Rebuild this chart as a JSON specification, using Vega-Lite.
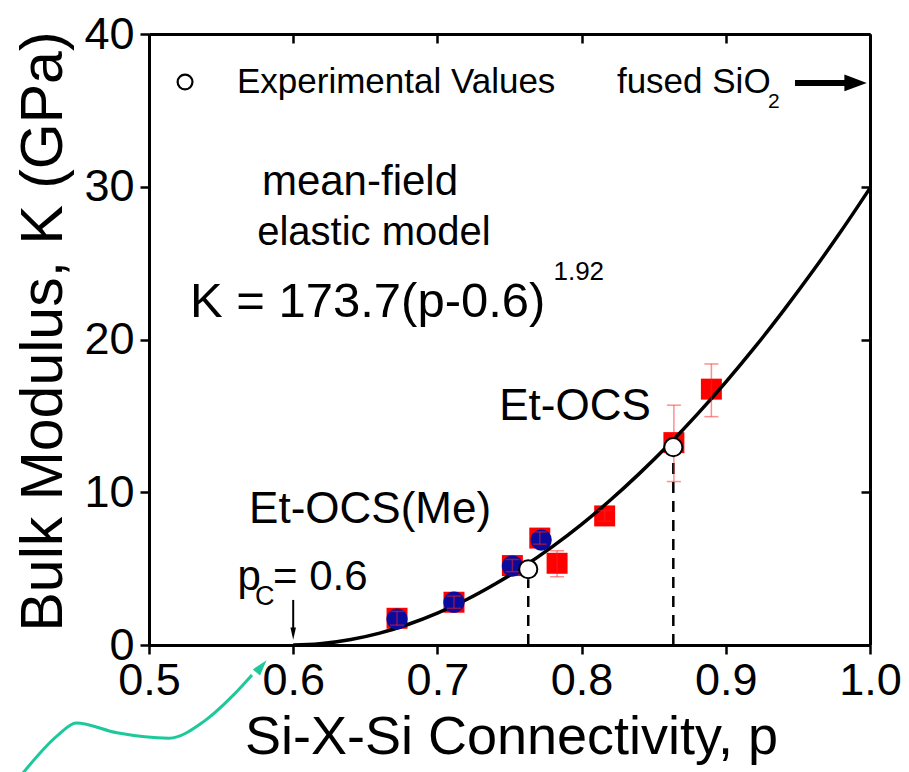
{
  "$schema": "https://vega.github.io/schema/vega-lite/v6.json",
  "width": 721,
  "height": 611,
  "autosize": "none",
  "padding": {"left": 149, "top": 34, "right": 39, "bottom": 127},
  "background": "white",
  "config": {
    "view": {"stroke": null},
    "font": "Liberation Sans",
    "axis": {
      "domainColor": "black", "domainWidth": 3, "tickColor": "black", "tickWidth": 2.5,
      "grid": false, "labelColor": "black", "titleColor": "black",
      "labelFont": "Liberation Sans", "titleFont": "Liberation Sans", "titleFontWeight": "normal"
    }
  },
  "datasets": {
    "fit": [
      {"p": 0.6, "K": 0}, {"p": 0.61, "K": 0.025}, {"p": 0.62, "K": 0.095}, {"p": 0.64, "K": 0.36},
      {"p": 0.66, "K": 0.78}, {"p": 0.68, "K": 1.36}, {"p": 0.7, "K": 2.09}, {"p": 0.72, "K": 2.96},
      {"p": 0.74, "K": 3.99}, {"p": 0.76, "K": 5.15}, {"p": 0.78, "K": 6.46}, {"p": 0.8, "K": 7.9},
      {"p": 0.82, "K": 9.49}, {"p": 0.84, "K": 11.22}, {"p": 0.86, "K": 13.08}, {"p": 0.88, "K": 15.08},
      {"p": 0.9, "K": 17.21}, {"p": 0.92, "K": 19.48}, {"p": 0.94, "K": 21.89}, {"p": 0.96, "K": 24.43},
      {"p": 0.98, "K": 27.1}, {"p": 1.0, "K": 29.91}
    ],
    "red": [
      {"p": 0.672, "K": 1.75, "lo": 1.3, "hi": 2.2},
      {"p": 0.7115, "K": 2.8, "lo": 2.4, "hi": 3.2},
      {"p": 0.752, "K": 5.2, "lo": 4.8, "hi": 5.6},
      {"p": 0.771, "K": 7.0, "lo": 6.6, "hi": 7.4},
      {"p": 0.783, "K": 5.35, "lo": 4.47, "hi": 6.17},
      {"p": 0.816, "K": 8.45, "lo": 8.1, "hi": 8.8},
      {"p": 0.864, "K": 13.25, "lo": 10.7, "hi": 15.7},
      {"p": 0.89, "K": 16.75, "lo": 14.95, "hi": 18.4}
    ],
    "blue": [
      {"p": 0.672, "K": 1.7}, {"p": 0.7115, "K": 2.8}, {"p": 0.752, "K": 5.17}, {"p": 0.772, "K": 6.87}
    ],
    "open": [
      {"p": 0.763, "K": 4.96}, {"p": 0.8636, "K": 12.95}
    ],
    "dash": [
      {"p": 0.763, "K": 0, "K2": 4.3}, {"p": 0.8636, "K": 0, "K2": 12.2}
    ],
    "legendpt": [{"p": 0.525, "K": 36.86}],
    "pcarrow": [{"p": 0.6, "K": 2.95, "K2": 1.0}],
    "pchead": [{"p": 0.6, "K": 0.75}],
    "sio2shaft": [{"p": 0.948, "p2": 0.985, "K": 36.8}],
    "sio2head": [{"p": 0.99, "K": 36.8}],
    "teal": [
      {"p": 0.4126, "K": -8.38}, {"p": 0.4369, "K": -5.9}, {"p": 0.4494, "K": -5.1},
      {"p": 0.4778, "K": -5.75}, {"p": 0.5139, "K": -6.1}, {"p": 0.5381, "K": -5.0},
      {"p": 0.5583, "K": -3.3}, {"p": 0.5714, "K": -1.96}
    ],
    "tealhead": [{"p": 0.578, "K": -1.4}],
    "bigtext": [
      {"p": 0.7954, "K": 14.73, "t": "Et-OCS"},
      {"p": 0.6533, "K": 7.99, "t": "Et-OCS(Me)"}
    ],
    "modeltext": [
      {"p": 0.6463, "K": 29.46, "t": "mean-field"}
    ],
    "modeltext2": [
      {"p": 0.656, "K": 26.19, "t": "elastic model"}
    ],
    "formula": [{"p": 0.5284, "K": 21.5, "t": "K = 173.7(p-0.6)"}],
    "formsup": [{"p": 0.7805, "K": 23.9, "t": "1.92"}],
    "pctext": [{"p": 0.5614, "K": 3.6, "t": "p"}, {"p": 0.586, "K": 3.6, "t": "= 0.6"}],
    "pcsub": [{"p": 0.5735, "K": 2.62, "t": "C"}],
    "legtext": [{"p": 0.561, "K": 36.14, "t": "Experimental Values"}, {"p": 0.8245, "K": 36.14, "t": "fused SiO"}],
    "sio2sub": [{"p": 0.9293, "K": 35.16, "t": "2"}]
  },
  "encoding": {
    "x": {"field": "p", "type": "quantitative", "scale": {"domain": [0.5, 1.0], "nice": false, "zero": false}, "axis": null},
    "y": {"field": "K", "type": "quantitative", "scale": {"domain": [0, 40], "nice": false, "zero": false}, "axis": null}
  },
  "layer": [
    {
      "data": {"name": "fit"},
      "mark": {"type": "point", "opacity": 0},
      "encoding": {
        "x": {"field": "p", "type": "quantitative", "scale": {"domain": [0.5, 1.0], "nice": false, "zero": false},
          "axis": {"orient": "bottom", "values": [0.5, 0.6, 0.7, 0.8, 0.9, 1.0], "format": ".1f", "tickSize": 9,
            "labelFontSize": 45, "labelPadding": 4, "labelFlush": false,
            "title": "Si-X-Si Connectivity, p", "titleFontSize": 54, "titleBaseline": "alphabetic", "titleX": 362, "titleY": 108}},
        "y": {"field": "K", "type": "quantitative", "scale": {"domain": [0, 40], "nice": false, "zero": false},
          "axis": {"orient": "left", "values": [0, 10, 20, 30, 40], "tickSize": 9, "labelFontSize": 45, "labelPadding": 6,
            "labelFlush": false, "title": "Bulk Modulus, K (GPa)", "titleFontSize": 59, "titleAngle": 270,
            "titleBaseline": "alphabetic", "titleX": -88, "titleY": 297, "titleAnchor": "middle"}}
      }
    },
    {
      "data": {"name": "fit"},
      "mark": {"type": "point", "opacity": 0},
      "encoding": {
        "x": {"field": "p", "type": "quantitative", "scale": {"domain": [0.5, 1.0], "nice": false, "zero": false},
          "axis": {"orient": "top", "values": [0.5, 0.6, 0.7, 0.8, 0.9, 1.0], "tickSize": -9, "labels": false, "title": null}},
        "y": {"field": "K", "type": "quantitative", "scale": {"domain": [0, 40], "nice": false, "zero": false},
          "axis": {"orient": "right", "values": [0, 10, 20, 30, 40], "tickSize": -9, "labels": false, "title": null}}
      }
    },
    {
      "data": {"name": "dash"},
      "mark": {"type": "rule", "color": "black", "strokeWidth": 2.5, "strokeDash": [11, 8]},
      "encoding": {"y2": {"field": "K2"}}
    },
    {
      "data": {"name": "red"},
      "mark": {"type": "point", "shape": "square", "filled": true, "color": "#ff0000", "size": 440, "opacity": 1},
      "encoding": {}
    },
    {
      "data": {"name": "fit"},
      "mark": {"type": "line", "color": "black", "strokeWidth": 3.5, "interpolate": "monotone"},
      "encoding": {}
    },
    {
      "data": {"name": "blue"},
      "mark": {"type": "point", "shape": "circle", "filled": true, "color": "#0a0a9c", "size": 450, "opacity": 1},
      "encoding": {}
    },
    {
      "data": {"name": "red"},
      "mark": {"type": "rule", "color": "#ff2020", "strokeWidth": 1.5, "opacity": 0.5},
      "encoding": {"y": {"field": "lo", "type": "quantitative"}, "y2": {"field": "hi"}}
    },
    {
      "data": {"name": "red"},
      "mark": {"type": "tick", "orient": "horizontal", "color": "#ff2020", "thickness": 1.5, "size": 14, "opacity": 0.5},
      "encoding": {"y": {"field": "lo", "type": "quantitative"}}
    },
    {
      "data": {"name": "red"},
      "mark": {"type": "tick", "orient": "horizontal", "color": "#ff2020", "thickness": 1.5, "size": 14, "opacity": 0.5},
      "encoding": {"y": {"field": "hi", "type": "quantitative"}}
    },
    {
      "data": {"name": "open"},
      "mark": {"type": "point", "shape": "circle", "filled": true, "fill": "white", "stroke": "black", "strokeWidth": 2, "size": 330, "opacity": 1},
      "encoding": {}
    },
    {
      "data": {"name": "legendpt"},
      "mark": {"type": "point", "shape": "circle", "filled": true, "fill": "white", "stroke": "black", "strokeWidth": 2.2, "size": 220, "opacity": 1},
      "encoding": {}
    },
    {
      "data": {"name": "pcarrow"},
      "mark": {"type": "rule", "color": "black", "strokeWidth": 2},
      "encoding": {"y2": {"field": "K2"}}
    },
    {
      "data": {"name": "pchead"},
      "mark": {"type": "point", "shape": "M-0.45,-1L0.45,-1L0,1Z", "filled": true, "color": "black", "size": 150, "opacity": 1},
      "encoding": {}
    },
    {
      "data": {"name": "sio2shaft"},
      "mark": {"type": "rule", "color": "black", "strokeWidth": 6},
      "encoding": {"x2": {"field": "p2"}}
    },
    {
      "data": {"name": "sio2head"},
      "mark": {"type": "point", "shape": "M-1,-0.75L1,0L-1,0.75Z", "filled": true, "color": "black", "size": 500, "opacity": 1},
      "encoding": {}
    },
    {
      "data": {"name": "teal"},
      "mark": {"type": "line", "color": "#1dc99a", "strokeWidth": 3, "interpolate": "monotone", "clip": false},
      "encoding": {}
    },
    {
      "data": {"name": "tealhead"},
      "mark": {"type": "point", "shape": "M-0.6,1L0,-1L0.6,1Z", "angle": 40, "filled": true, "color": "#1dc99a", "size": 250, "opacity": 1, "clip": false},
      "encoding": {}
    },
    {
      "data": {"name": "bigtext"},
      "mark": {"type": "text", "fontSize": 44, "align": "center", "baseline": "alphabetic", "color": "black"},
      "encoding": {"text": {"field": "t"}}
    },
    {
      "data": {"name": "modeltext"},
      "mark": {"type": "text", "fontSize": 42, "align": "center", "baseline": "alphabetic", "color": "black"},
      "encoding": {"text": {"field": "t"}}
    },
    {
      "data": {"name": "modeltext2"},
      "mark": {"type": "text", "fontSize": 40, "align": "center", "baseline": "alphabetic", "color": "black"},
      "encoding": {"text": {"field": "t"}}
    },
    {
      "data": {"name": "formula"},
      "mark": {"type": "text", "fontSize": 49, "align": "left", "baseline": "alphabetic", "color": "black"},
      "encoding": {"text": {"field": "t"}}
    },
    {
      "data": {"name": "formsup"},
      "mark": {"type": "text", "fontSize": 26, "align": "left", "baseline": "alphabetic", "color": "black"},
      "encoding": {"text": {"field": "t"}}
    },
    {
      "data": {"name": "pctext"},
      "mark": {"type": "text", "fontSize": 42, "align": "left", "baseline": "alphabetic", "color": "black"},
      "encoding": {"text": {"field": "t"}}
    },
    {
      "data": {"name": "pcsub"},
      "mark": {"type": "text", "fontSize": 27, "align": "left", "baseline": "alphabetic", "color": "black"},
      "encoding": {"text": {"field": "t"}}
    },
    {
      "data": {"name": "legtext"},
      "mark": {"type": "text", "fontSize": 35, "align": "left", "baseline": "alphabetic", "color": "black"},
      "encoding": {"text": {"field": "t"}}
    },
    {
      "data": {"name": "sio2sub"},
      "mark": {"type": "text", "fontSize": 21, "align": "left", "baseline": "alphabetic", "color": "black"},
      "encoding": {"text": {"field": "t"}}
    }
  ],
  "resolve": {"axis": {"x": "independent", "y": "independent"}}
}
